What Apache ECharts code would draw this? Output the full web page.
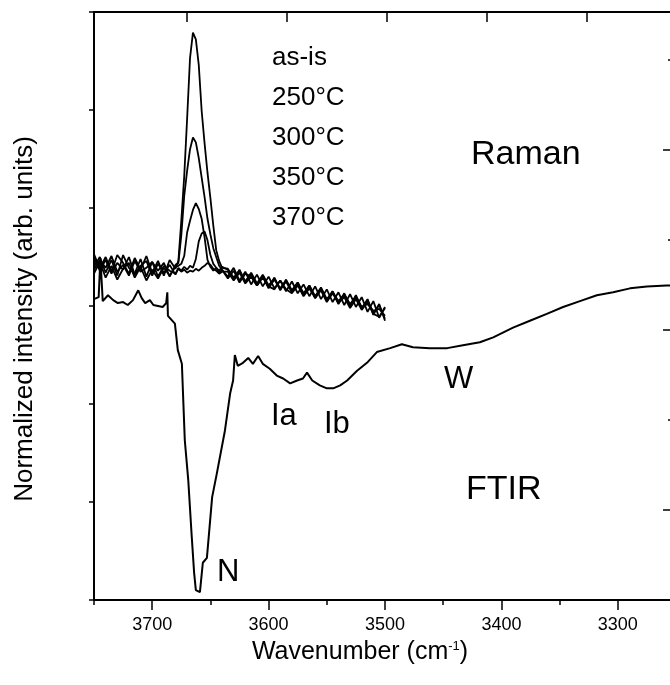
<!DOCTYPE html>
<html>
<head>
<meta charset="utf-8">
<script src="https://cdn.jsdelivr.net/npm/echarts@6/dist/echarts.min.js"></script>
<style>html,body{margin:0;padding:0;background:#fff;overflow:hidden;}#chart{width:676px;height:685px;}</style>
</head>
<body>
<div id="chart"></div>
<script>
// ---- data ----
const ftirX = [3750,3746,3744.5,3742.5,3738,3733.5,3729.5,3725,3721,3716.5,3712,3709,3706,3702,3699,3695,3691,3688,3687,3686.5,3680.5,3678,3674.5,3672,3669,3666,3664,3662.5,3659,3656.5,3653,3648.5,3644.5,3637.5,3633,3630.5,3629,3626.5,3622,3617.5,3613.5,3609,3605,3599,3593,3587.5,3581.5,3575.5,3570.5,3567,3562.5,3556,3550,3544.5,3538.5,3532.5,3524,3515.5,3507,3495.5,3485.5,3476,3461.5,3446.5,3433,3418.5,3407,3390,3375.5,3361,3347,3332.5,3318,3304,3289.5,3275,3258,3250];
const ftirY = [3.07,3.09,3.49,3.05,3.11,3.06,3.03,3.04,3.01,3.06,3.16,3.08,3.03,3.06,3.01,3.00,2.99,3.03,3.14,2.90,2.82,2.55,2.41,1.63,1.22,0.64,0.28,0.10,0.08,0.38,0.43,1.05,1.29,1.73,2.11,2.24,2.50,2.39,2.42,2.47,2.41,2.49,2.41,2.36,2.29,2.26,2.21,2.24,2.26,2.32,2.24,2.19,2.16,2.16,2.19,2.24,2.34,2.42,2.53,2.57,2.61,2.58,2.57,2.57,2.60,2.63,2.68,2.78,2.85,2.92,2.99,3.05,3.11,3.14,3.18,3.20,3.21,3.21];

const ramanX = [3750,3745,3740,3735,3730,3725,3720,3715,3710,3705,3700,3695,3690,3685,3680,
  3677.5,3675,3672.5,3670,3667.5,3665,3662.5,3660,3657.5,3655,3652.5,3650,3647.5,3645,3642.5,3640,
  3635,3630,3625,3620,3615,3610,3605,3600,3595,3590,3585,3580,3575,3570,3565,3560,3555,3550,3545,3540,3535,3530,3525,3520,3515,3510,3505,3500];
const ramanAsIs = [3.53,3.38,3.50,3.35,3.52,3.44,3.33,3.49,3.37,3.51,3.34,3.46,3.31,3.47,3.38,
  3.46,3.87,4.32,4.91,5.53,5.79,5.72,5.46,4.99,4.66,4.36,4.10,3.82,3.57,3.46,3.39,
  3.38,3.28,3.37,3.24,3.33,3.21,3.31,3.19,3.29,3.16,3.27,3.15,3.24,3.11,3.21,3.08,3.18,3.05,3.15,3.02,3.13,3.00,3.11,2.97,3.07,2.91,3.02,2.85];
const raman250 = [3.40,3.50,3.34,3.47,3.31,3.52,3.39,3.33,3.48,3.30,3.45,3.36,3.44,3.30,3.42,
  3.44,3.72,4.12,4.38,4.60,4.72,4.67,4.51,4.31,4.11,3.89,3.73,3.59,3.50,3.41,3.37,
  3.30,3.39,3.26,3.35,3.22,3.32,3.20,3.30,3.18,3.26,3.15,3.25,3.13,3.22,3.10,3.20,3.07,3.17,3.04,3.14,3.01,3.12,2.99,3.09,2.94,3.05,2.88,2.99];
const raman300 = [3.33,3.45,3.29,3.41,3.27,3.38,3.44,3.29,3.40,3.26,3.37,3.28,3.39,3.31,3.40,
  3.41,3.43,3.51,3.75,3.87,3.98,4.05,3.99,3.89,3.70,3.47,3.40,3.36,3.39,3.34,3.37,
  3.28,3.36,3.24,3.33,3.30,3.21,3.30,3.18,3.27,3.17,3.25,3.14,3.23,3.12,3.20,3.09,3.17,3.06,3.15,3.03,3.11,3.02,3.09,2.98,3.06,2.93,3.01,2.87];
const raman350 = [3.49,3.36,3.47,3.33,3.44,3.37,3.50,3.32,3.41,3.46,3.31,3.43,3.34,3.42,3.32,
  3.39,3.36,3.40,3.37,3.41,3.39,3.48,3.66,3.74,3.76,3.67,3.52,3.43,3.39,3.36,3.40,
  3.37,3.29,3.36,3.25,3.34,3.23,3.32,3.21,3.28,3.18,3.26,3.16,3.24,3.13,3.21,3.10,3.19,3.07,3.14,3.05,3.12,3.01,3.10,2.99,3.02,2.95,2.97,2.90];
const raman370 = [3.37,3.47,3.39,3.51,3.35,3.42,3.31,3.46,3.35,3.39,3.45,3.30,3.41,3.36,3.33,
  3.38,3.35,3.37,3.34,3.36,3.35,3.38,3.36,3.39,3.41,3.44,3.42,3.38,3.36,3.33,3.35,
  3.35,3.26,3.34,3.23,3.30,3.21,3.29,3.20,3.17,3.26,3.17,3.13,3.21,3.10,3.18,3.08,3.16,3.04,3.13,3.03,3.09,2.98,3.07,2.96,3.04,2.92,2.89,2.98];

const ramanNames = ['as-is','250°C','300°C','350°C','370°C'];
const ramanSets = [ramanAsIs, raman250, raman300, raman350, raman370];
const xAxisName = 'Wavenumber (cm{sup|-1})';
const yAxisName = 'Normalized intensity (arb. units)';

// ---- chart ----
const FONT = 'Arial, "Liberation Sans", sans-serif';
const zip = (xs, ys) => xs.map((x, i) => [x, ys[i]]);
const chart = echarts.init(document.getElementById('chart'), null, {renderer: 'canvas'});

const series = [{
  name: 'FTIR', type: 'line', xAxisIndex: 0, yAxisIndex: 0,
  data: zip(ftirX, ftirY), symbol: 'none', smooth: false,
  lineStyle: {color: '#000', width: 2}
}].concat(ramanSets.map((ys, i) => ({
  name: ramanNames[i], type: 'line', xAxisIndex: 0, yAxisIndex: 0,
  data: zip(ramanX, ys), symbol: 'none',
  lineStyle: {color: '#000', width: 1.8}
})));

const blackLine = {onZero: false, lineStyle: {color: '#000', width: 2}};
const noLine = {show: false, onZero: false};
const txt = (t, x, y, size) => ({
  type: 'text', x: x, y: y, silent: true,
  style: {text: t, fill: '#000', fontFamily: FONT, fontSize: size, align: 'left', verticalAlign: 'middle'}
});

chart.setOption({
  animation: false,
  backgroundColor: '#fff',
  grid: {left: 94, right: 0, top: 12, bottom: 85, containLabel: false},
  xAxis: [
    {type: 'value', position: 'bottom', inverse: true, min: 3250, max: 3750, splitNumber: 5,
     axisLine: blackLine,
     axisTick: {show: true, inside: false, length: 10, lineStyle: {color: '#000', width: 1.5}},
     axisLabel: {color: '#000', fontSize: 18, fontFamily: FONT, margin: 16, showMinLabel: false, showMaxLabel: false,
                 formatter: v => String(v)},
     splitLine: {show: false},
     name: xAxisName, nameLocation: 'middle', nameGap: 40,
     nameTextStyle: {color: '#000', fontSize: 25, fontFamily: FONT, padding: [0, 50, 0, 0],
       rich: {sup: {fontSize: 13, fontFamily: FONT, color: '#000', verticalAlign: 'top', padding: [0, 0, 10, 0]}}}},
    {type: 'value', position: 'bottom', inverse: true, min: 3250, max: 3750, interval: 50,
     axisLine: noLine,
     axisTick: {show: true, inside: false, length: 5, lineStyle: {color: '#000', width: 1.5}},
     axisLabel: {show: false}, splitLine: {show: false}},
    {type: 'value', position: 'top', min: -0.93, max: 4.89, splitNumber: 6, show: true,
     axisLine: blackLine,
     axisTick: {show: true, inside: true, length: 10, lineStyle: {color: '#000', width: 1.5}},
     axisLabel: {show: false}, splitLine: {show: false}}
  ],
  yAxis: [
    {type: 'value', position: 'left', min: 0, max: 6, interval: 1,
     axisLine: blackLine,
     axisTick: {show: true, inside: false, length: 5, lineStyle: {color: '#000', width: 1.5}},
     axisLabel: {show: false}, splitLine: {show: false},
     name: yAxisName, nameLocation: 'middle', nameGap: 56, nameRotate: 90,
     nameTextStyle: {color: '#000', fontSize: 26, fontFamily: FONT, padding: [0, 26, 0, 0]}},
    {type: 'value', position: 'right', min: 0, max: 3.2667, interval: 1,
     axisLine: blackLine,
     axisTick: {show: true, inside: true, length: 8, lineStyle: {color: '#000', width: 1.5}},
     axisLabel: {show: false}, splitLine: {show: false}},
    {type: 'value', position: 'right', min: -0.5, max: 2.7667, splitNumber: 3,
     axisLine: noLine,
     axisTick: {show: true, inside: true, length: 13, lineStyle: {color: '#000', width: 1.5}},
     axisLabel: {show: false}, splitLine: {show: false}}
  ],
  series: series,
  graphic: [
    txt(ramanNames[0], 272, 58, 26),
    txt(ramanNames[1], 272, 98, 26),
    txt(ramanNames[2], 272, 138, 26),
    txt(ramanNames[3], 272, 178, 26),
    txt(ramanNames[4], 272, 218, 26),
    txt('Raman', 471, 155, 34),
    txt('FTIR', 466, 490, 34),
    txt('N', 217, 572, 31),
    txt('Ia', 271, 416, 31),
    txt('Ib', 324, 424, 31),
    txt('W', 444, 379, 31)
  ]
});
</script>
</body>
</html>
